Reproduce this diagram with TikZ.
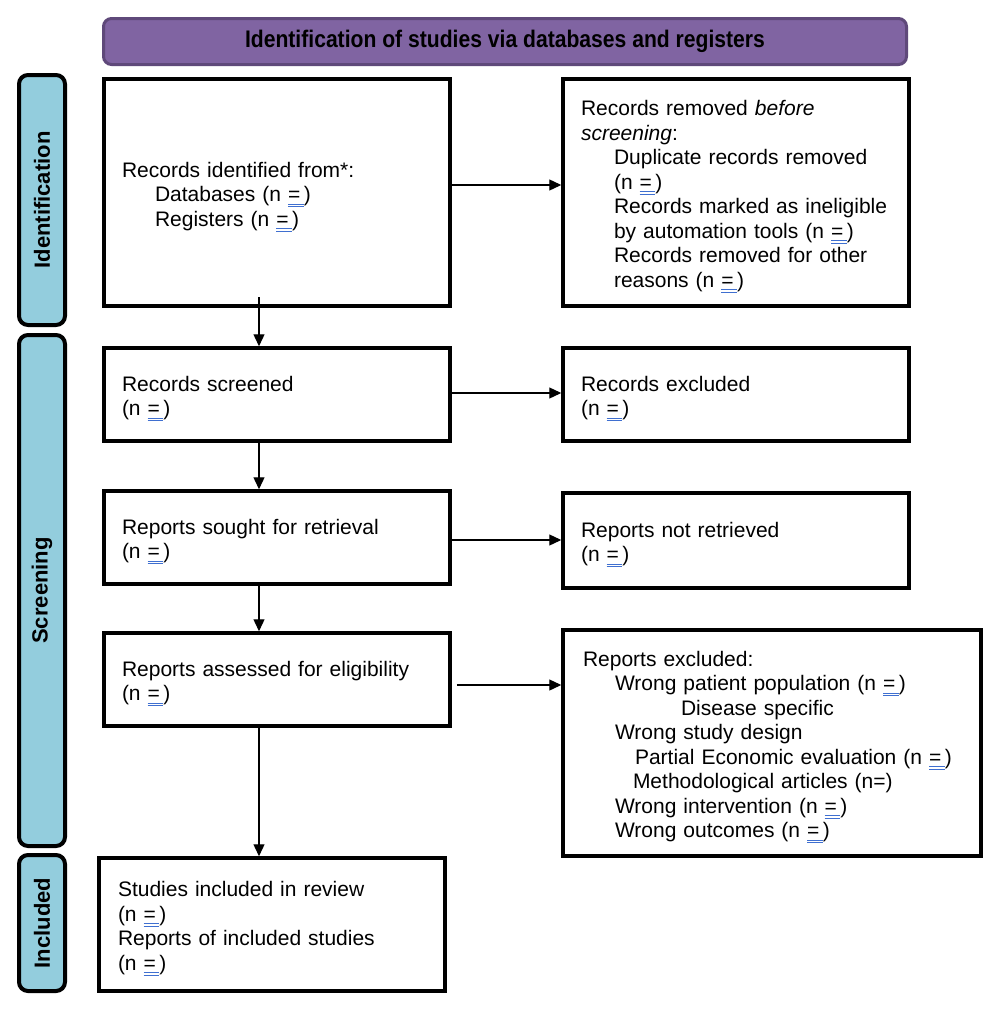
\documentclass[tikz,border=0pt]{standalone}
\usepackage{fontspec}
\usepackage{graphicx}
\setmainfont{Liberation Sans}
\usetikzlibrary{arrows.meta,calc}
\definecolor{hdrfill}{HTML}{8064A2}
\definecolor{hdrdraw}{HTML}{5F497A}
\definecolor{sidefill}{HTML}{93CDDD}
\definecolor{ulblue}{HTML}{3F6FD0}
\newcommand{\nblank}{\mbox{\setbox0\hbox{=\,}\rlap{\color{ulblue}\rule[-3pt]{\wd0}{1pt}}\rlap{\color{ulblue}\rule[-5.5pt]{\wd0}{1pt}}\box0)}}
\newcommand{\ind}[1]{\hspace*{#1pt}}
\newcommand{\topstrut}{\rule{0pt}{23.5pt}}
\tikzset{
  x=1pt, y=-1pt,
  txt/.style={font=\fontsize{21}{24.5}\selectfont},
  box/.style={txt, draw=black, line width=3.5pt, fill=white, align=left,
    inner xsep=18pt, inner ysep=2pt, text width=310pt,
    execute at begin node=\topstrut},
  side/.style={draw=black, line width=4pt, fill=sidefill, rounded corners=9pt,
    rotate=90, minimum height=46pt, inner sep=0pt,
    font=\fontsize{22}{26}\selectfont\bfseries},
  hdr/.style={draw=hdrdraw, line width=3pt, fill=hdrfill, rounded corners=8pt,
    minimum width=803pt, minimum height=46pt, inner sep=0pt,
    font=\fontsize{24}{28}\selectfont\bfseries},
  arr/.style={draw=black, line width=1.3pt, -{Triangle[length=12pt,width=11pt]}}
}
\begin{document}
\begin{tikzpicture}
\useasboundingbox (0,0) rectangle (1000,1012);
\fill[white] (0,0) rectangle (1000,1012);

\node[hdr] (hdr) at (505,41.5) {\scalebox{0.88}[1]{Identification of studies via databases and registers}};

\node[side, minimum width=250pt] (sid) at (42,200) {Identification};
\node[side, minimum width=511pt] (sscr) at (42,590.5) {Screening};
\node[side, minimum width=136pt] (sinc) at (42,923) {Included};

\node[box, minimum height=227pt] (A) at (277,192.5) {Records identified from*:\\
\ind{33}Databases (n \nblank\\
\ind{33}Registers (n \nblank};

\node[box, minimum height=227pt] (B) at (736,192.5) {Records removed \textit{before}\\
\textit{screening}:\\
\ind{33}Duplicate records removed\\
\ind{33}(n \nblank\\
\ind{33}Records marked as ineligible\\
\ind{33}by automation tools (n \nblank\\
\ind{33}Records removed for other\\
\ind{33}reasons (n \nblank};

\node[box, minimum height=93pt] (C) at (277,394.5) {Records screened\\(n \nblank};
\node[box, minimum height=93pt] (D) at (736,394.5) {Records excluded\\(n \nblank};

\node[box, minimum height=93pt] (E) at (277,537.5) {Reports sought for retrieval\\(n \nblank};
\node[box, minimum height=95pt] (F) at (736,540.5) {Reports not retrieved\\(n \nblank};

\node[box, minimum height=93pt] (G) at (277,679.5) {Reports assessed for eligibility\\(n \nblank};
\node[box, minimum height=226pt, text width=378pt, inner xsep=20pt] (H) at (772,743) {Reports excluded:\\
\ind{32}Wrong patient population (n \nblank\\
\ind{98}Disease specific\\
\ind{32}Wrong study design\\
\ind{52}Partial Economic evaluation (n \nblank\\
\ind{50}Methodological articles (n=)\\
\ind{32}Wrong intervention (n \nblank\\
\ind{32}Wrong outcomes (n \nblank};

\node[box, minimum height=133pt, inner xsep=19pt, text width=308pt] (I) at (272,924.5) {Studies included in review\\
(n \nblank\\
Reports of included studies\\
(n \nblank};

\coordinate (a1) at (259,297);
\draw[arr] (a1) -- (C.north -| a1);
\draw[arr] (C.south -| a1) -- (E.north -| a1);
\draw[arr] (E.south -| a1) -- (G.north -| a1);
\draw[arr] (G.south -| a1) -- (I.north -| a1);

\draw[arr] (A.east |- 0,185) -- (B.west |- 0,185);
\draw[arr] (C.east |- 0,393) -- (D.west |- 0,393);
\draw[arr] (E.east |- 0,540) -- (F.west |- 0,540);
\draw[arr, shorten <=5pt] (G.east |- 0,685) -- (H.west |- 0,685);
\end{tikzpicture}
\end{document}
